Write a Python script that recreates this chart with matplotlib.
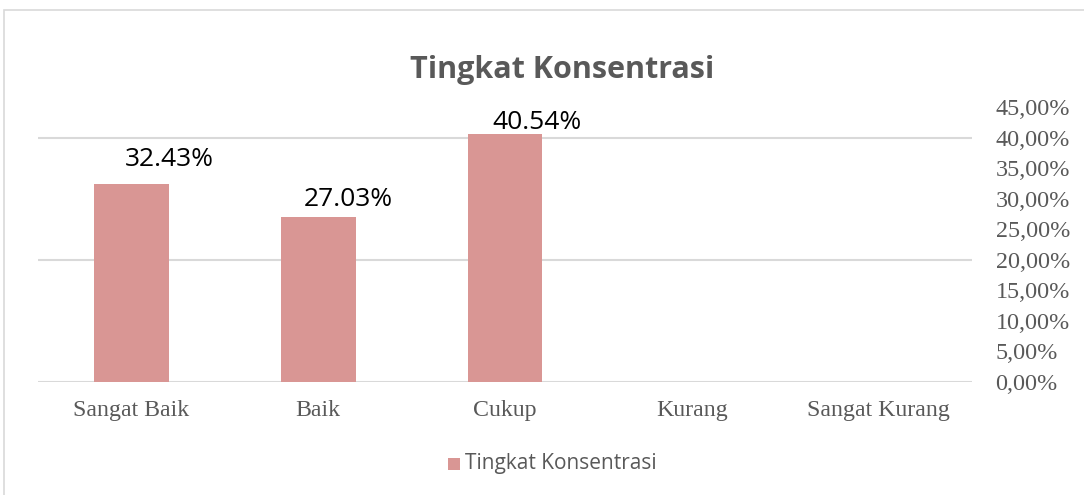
import matplotlib.pyplot as plt
from matplotlib.patches import Rectangle
from matplotlib.ticker import FuncFormatter

# data
categories = ["Sangat Baik", "Baik", "Cukup", "Kurang", "Sangat Kurang"]
values = [0.3243, 0.2703, 0.4054, 0.0, 0.0]
labels = ["32.43%", "27.03%", "40.54%"]
label_offsets = [(38, 24), (30, 17), (32, 12)]  # pixels right / above bar top

bar_color = "#d99694"
text_gray = "#595959"
grid_gray = "#d9d9d9"

fig = plt.figure(figsize=(10.84, 4.95), dpi=100)
fig.patch.set_facecolor("white")

# outer chart frame (Excel chart border)
fig.patches.append(Rectangle((4 / 1084, -0.1), 1.2, (495 - 10) / 495 + 0.1,
                             transform=fig.transFigure, fill=False,
                             edgecolor=grid_gray, linewidth=1.2))

ax = fig.add_axes([38 / 1084, (495 - 382) / 495, (972 - 38) / 1084, (382 - 107) / 495])
x = range(len(categories))
ax.bar(x, values, width=0.4, color=bar_color, zorder=2)
ax.set_xlim(-0.5, len(categories) - 0.5)
ax.set_ylim(0, 0.45)

# only 0, 20, 40 % gridlines
for g in [0.0, 0.2, 0.4]:
    ax.axhline(g, color=grid_gray, linewidth=1.5, zorder=1)

for s in ax.spines.values():
    s.set_visible(False)

ax.set_xticks(list(x))
ax.set_xticklabels(categories, family="Liberation Serif", fontsize=17.2, color=text_gray)
ax.tick_params(axis="x", length=0, pad=13)

ax.yaxis.tick_right()
ax.set_yticks([i * 0.05 for i in range(10)])
ax.yaxis.set_major_formatter(FuncFormatter(lambda v, p: f"{v * 100:.2f}%".replace(".", ",")))
ax.tick_params(axis="y", length=0, pad=17, labelsize=17.4, labelcolor=text_gray)
for t in ax.get_yticklabels():
    t.set_family("Liberation Serif")

for i, (lab, off) in enumerate(zip(labels, label_offsets)):
    ax.annotate(lab, (i, values[i]), xytext=(off[0] * 0.72, off[1] * 0.72),
                textcoords="offset points", ha="center", va="center",
                fontsize=19, family="Open Sans", color="black")

fig.text(562 / 1084, 1 - 70 / 495, "Tingkat Konsentrasi", ha="center", va="center",
         fontsize=22, fontweight="bold", family="Open Sans", color=text_gray)

# legend
fig.patches.append(Rectangle((448 / 1084, 1 - 470 / 495), 12 / 1084, 12 / 495,
                             transform=fig.transFigure, facecolor=bar_color, edgecolor="none"))
fig.text(465 / 1084, 1 - 463 / 495, "Tingkat Konsentrasi", ha="left", va="center",
         fontsize=15, family="Open Sans", color=text_gray)

fig.savefig("out.png", dpi=100)
